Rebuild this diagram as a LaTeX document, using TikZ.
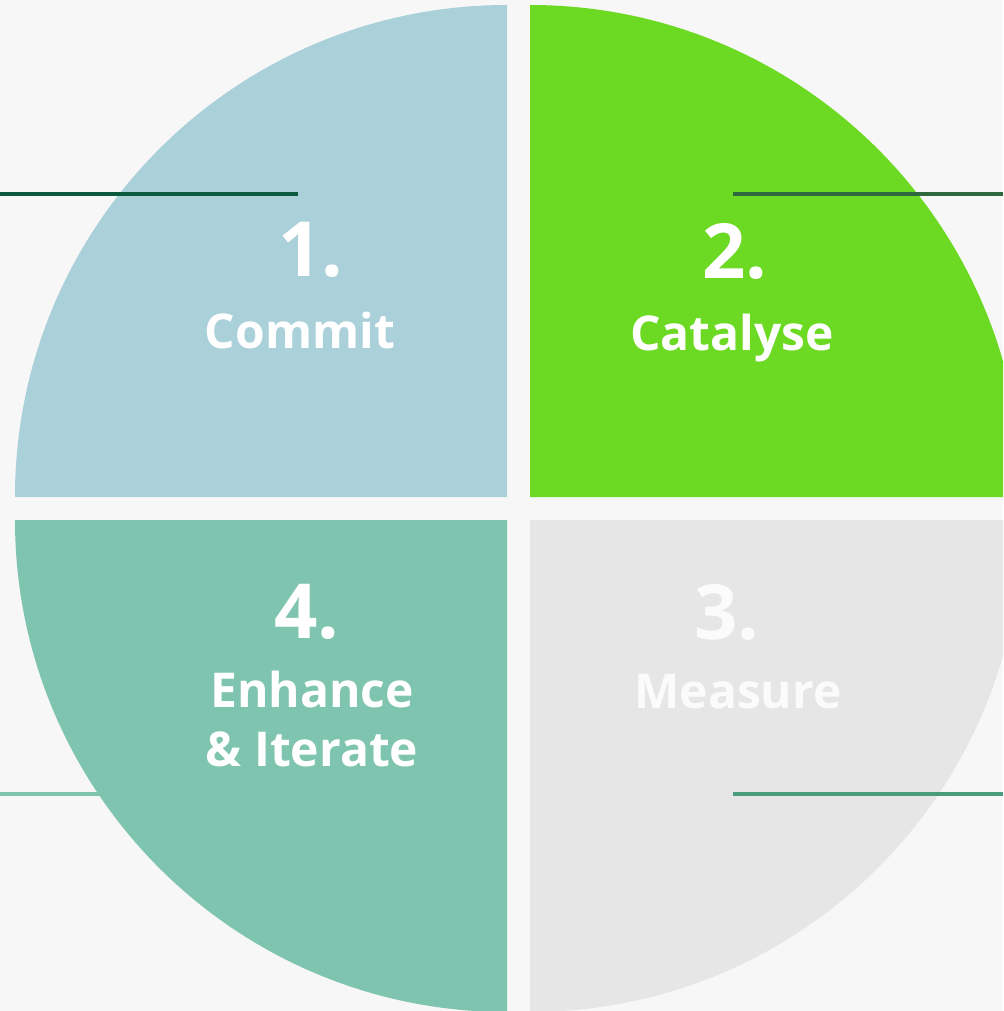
\documentclass[tikz,border=0pt]{standalone}
\usepackage{fontspec}
\setmainfont{Open Sans}
\definecolor{bggray}{HTML}{F7F7F7}
\definecolor{commitblue}{HTML}{AAD0DA}
\definecolor{catalysegreen}{HTML}{6CD922}
\definecolor{measuregray}{HTML}{E6E6E6}
\definecolor{enhanceteal}{HTML}{7FC4AE}
\definecolor{darkline}{HTML}{0B5A3E}
\definecolor{midline}{HTML}{2E6A3E}
\definecolor{softline}{HTML}{4A9C7A}

\tikzset{
    step num/.style={text=white, font=\fontsize{76}{80}\selectfont\bfseries, anchor=base, inner sep=0},
    step label/.style={text=white, font=\fontsize{48}{59}\selectfont\bfseries, anchor=base, inner sep=0, align=center},
    leader/.style={line width=3.5pt}
    }

\begin{document}
\begin{tikzpicture}[x=1pt,y=-1pt]
                \useasboundingbox[fill=bggray] (0,0) rectangle (1003,1011);
                \clip (0,0) rectangle (1003,1011);
                % line behind quadrant 4
                \coordinate (l4a) at (0,794);
                \coordinate (l4b) at (298,794);
                \draw[leader, enhanceteal] (l4a) -- (l4b);
                % quadrants
                \fill[commitblue] (507,497) -- ++(-492,0) arc[start angle=180, end angle=270, radius=492] -- cycle;
                \fill[catalysegreen] (530,497) -- ++(0,-492) arc[start angle=270, end angle=360, radius=492] -- cycle;
                \fill[measuregray] (530,520) -- ++(492,0) arc[start angle=0, end angle=90, radius=492] -- cycle;
                \fill[enhanceteal] (507,520) -- ++(0,492) arc[start angle=90, end angle=180, radius=492] -- cycle;
                % leader lines
                \coordinate (l1a) at (0,194);
                \coordinate (l1b) at (298,194);
                \coordinate (l2a) at (733,194);
                \coordinate (l2b) at (1003,194);
                \coordinate (l3a) at (733,794);
                \coordinate (l3b) at (1003,794);
                \draw[leader, darkline] (l1a) -- (l1b);
                \draw[leader, midline] (l2a) -- (l2b);
                \draw[leader, softline] (l3a) -- (l3b);
                % texts
                \node(1)[step num] at (311,276) {1.};
                \node(c1)[step label] at (300,348) {Commit};
                \node(2)[step num] at (735,278) {2.};
                \node(c2)[step label] at (732,350) {Catalyse};
                \node(3)[step num, text=white!60!measuregray!40!white] at (727,639) {3.};
                \node(c3)[step label, text=white!60!measuregray!40!white] at (738,708) {Measure};
                \node(4)[step num] at (307,638) {4.};
                \node(c4)[step label] at (312,766) {Enhance\\\& Iterate};
            \end{tikzpicture}
\end{document}
